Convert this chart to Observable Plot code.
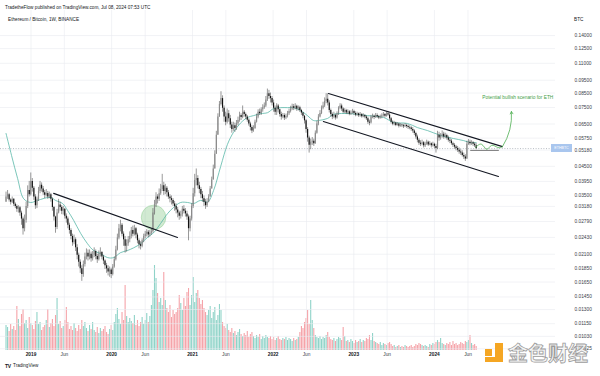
<!DOCTYPE html>
<html><head><meta charset="utf-8">
<script src="https://cdn.jsdelivr.net/npm/d3@7"></script>
<script src="https://cdn.jsdelivr.net/npm/@observablehq/plot@0.6"></script>
<style>
html,body{margin:0;padding:0;background:#fff;}
#wrap{position:relative;width:600px;height:376px;overflow:hidden;font-family:"Liberation Sans",Arial,sans-serif;background:#fff;}
#wrap svg{position:absolute;left:0;top:0;}
.abs{position:absolute;white-space:nowrap;line-height:1;}
</style></head><body>
<div id="wrap"></div>
<script>
// ---- data (weekly ETH/BTC candles, prices in 0.0001 BTC) ----
const firstWeek = "2018-09-10";
const firstOpen = 330;
const closes = [
345,352,336,330,338,324,318,310,314,300,
285,262,282,318,365,352,395,372,345,320,
338,362,382,370,358,350,356,345,352,338,
315,290,265,300,322,315,305,310,292,285,
270,258,245,232,238,222,208,196,185,176,
192,205,212,205,210,202,208,215,206,200,
210,213,205,198,190,185,180,183,176,188,
200,218,242,262,270,250,238,225,230,238,
245,258,250,262,248,236,228,225,236,245,
250,254,248,252,255,300,322,345,338,355,
368,380,362,372,358,345,340,335,325,318,
308,300,292,296,310,305,298,290,262,285,
318,355,398,405,380,368,352,340,330,320,
330,345,370,400,440,500,590,690,770,810,
745,690,660,710,680,645,620,640,625,652,
670,700,688,720,705,690,672,650,630,612,
625,660,690,720,712,735,748,760,800,845,
825,810,780,745,720,760,735,705,690,700,
685,695,710,725,740,755,745,758,740,748,
730,715,695,668,620,575,540,555,560,548,
600,650,690,712,745,760,790,805,780,730,
705,690,700,685,710,745,760,740,720,730,
715,722,708,715,725,712,702,710,698,705,
692,700,690,680,660,655,690,695,688,700,
692,685,690,698,705,695,710,702,680,660,
648,655,642,650,638,645,640,635,642,636,
630,628,620,612,598,580,565,550,545,552,
538,545,555,542,548,538,545,535,525,590,
575,585,595,580,588,575,565,560,548,540,
532,525,518,510,505,495,488,480,545,555,
548,552,545,538,525];
const highs = [
360,365,356,340,345,340,328,322,320,318,
305,290,295,330,380,395,425,405,378,352,
345,375,395,390,378,365,368,362,360,356,
342,318,292,310,338,330,320,318,312,298,
290,275,262,250,248,242,228,212,200,190,
198,212,220,218,218,214,215,222,218,210,
216,222,215,208,200,194,190,188,186,192,
205,225,250,272,282,274,255,245,238,245,
255,265,268,270,265,252,240,234,240,250,
256,260,258,258,262,312,335,358,352,370,
385,420,392,385,378,365,352,348,340,332,
325,315,305,305,318,320,312,305,295,292,
325,372,420,440,415,392,375,362,348,338,
340,352,378,410,455,515,610,710,790,860,
830,760,720,740,730,700,660,660,655,670,
690,720,710,760,730,715,700,680,660,640,
640,672,708,735,740,748,768,780,825,880,
870,850,825,800,760,775,770,740,720,712,
710,708,725,740,758,772,770,775,765,760,
758,738,720,700,675,630,585,570,578,570,
612,665,705,730,760,785,815,845,845,795,
740,715,720,708,722,755,775,772,748,742,
738,735,730,728,738,732,722,720,715,718,
712,710,705,698,690,672,700,708,702,712,
710,700,702,710,718,712,722,725,712,688,
668,665,660,658,655,652,650,648,652,648,
645,640,635,630,618,605,590,572,562,565,
558,555,565,560,558,552,555,550,545,610,
605,598,612,605,600,595,585,575,568,555,
548,540,535,528,520,515,505,498,560,568,
565,562,558,552,548];
const lows = [
330,338,330,322,326,318,312,302,300,292,
270,248,255,275,312,345,348,360,335,310,
312,332,355,360,350,340,345,338,340,330,
305,280,252,260,298,305,296,295,285,275,
262,250,238,225,228,215,200,188,178,166,
172,188,200,198,200,196,198,204,200,194,
198,205,200,192,184,178,174,172,170,174,
186,198,216,238,255,244,225,212,214,225,
232,240,244,246,240,230,220,218,222,232,
240,244,242,244,248,252,295,315,325,332,
350,362,350,352,345,338,328,322,318,305,
298,288,282,285,290,298,290,282,236,255,
280,312,345,380,370,355,340,330,318,310,
315,328,350,380,420,470,550,620,700,760,
720,660,640,650,660,625,600,610,605,615,
640,660,670,680,690,675,660,638,612,598,
605,620,655,680,700,700,720,738,750,790,
805,780,760,720,700,700,715,690,672,680,
670,675,685,700,715,730,730,735,725,728,
718,700,680,650,600,555,505,520,540,535,
545,595,640,685,705,735,750,775,760,715,
690,675,680,672,678,700,735,725,710,712,
705,705,698,700,708,700,692,695,688,690,
684,686,680,670,648,640,650,680,675,682,
682,675,678,680,690,685,690,695,670,650,
640,640,635,638,628,632,630,625,630,626,
620,618,610,600,588,570,552,540,535,538,
528,530,540,535,538,528,532,525,505,520,
560,565,575,570,572,565,555,548,540,530,
522,515,508,500,495,488,478,470,478,540,
538,540,535,530,520];
const volumes = [
25,23,19,26,21,24,20,44,31,24,
36,41,27,30,22,33,27,25,21,29,
38,26,28,20,23,25,30,41,23,27,
31,24,35,52,26,29,22,24,30,43,
28,21,24,20,27,22,19,25,21,30,
24,28,22,19,25,21,28,20,18,23,
17,22,19,21,24,18,16,21,25,20,
28,36,42,31,26,38,30,65,34,28,
32,29,27,35,25,30,24,28,33,26,
30,37,28,34,45,60,85,72,57,48,
52,45,78,50,42,38,45,33,40,36,
38,42,55,47,40,52,44,58,62,45,
55,73,48,57,60,52,46,50,42,38,
35,40,44,32,38,43,30,35,46,40,
28,24,22,26,20,18,22,17,19,15,
18,21,16,14,17,15,19,13,16,18,
14,12,15,13,16,11,14,12,15,13,
12,14,11,13,10,12,14,11,10,12,
11,13,10,12,11,9,12,10,11,13,
18,24,22,28,32,40,26,50,30,22,
15,13,12,14,11,13,12,15,18,13,
11,10,12,9,11,13,12,10,23,14,
9,10,8,11,9,7,10,8,9,11,
8,10,9,12,11,15,10,17,9,8,
7,6,8,5,7,6,5,7,8,6,
4,5,3,4,5,3,4,3,5,4,
3,4,5,3,4,6,5,7,6,5,
4,5,4,3,6,5,7,6,8,10,
8,12,7,6,5,7,6,8,5,9,
6,7,5,6,8,7,6,9,8,10,
15,7,5,6,4];
// moving average: [week index, price]
const maWeeks  = [0,3.6,7.5,11.4,15.9,20.4,28.8,32,36.6,39.8,43.7,48.2,52.7,56.6,61.2,65.7,69.6,74.1,78.6,82.5,87,91.5,95.4,99.9,104.5,108.3,112.9,117.4,121.3,125.8,130.3,134.2,138.8,143.2,147.1,151.6,156.2,160.1,164.6,169.1,173,177.5,182,185.9,190.4,194.9,198.8,202,207.9,211.7,222.7,233.7,244.1,250.5,259.6,266,272.5,280.9,289.3,295.8,300.4,304];
const maValues = [0.0599,0.0494,0.0405,0.0340,0.0329,0.0335,0.0344,0.0335,0.0326,0.0307,0.0282,0.0252,0.0230,0.0217,0.0211,0.0204,0.0204,0.0213,0.0217,0.0222,0.0230,0.0243,0.0253,0.0274,0.0299,0.0315,0.0329,0.0329,0.0326,0.0335,0.0330,0.0365,0.0450,0.0545,0.0605,0.0655,0.0688,0.0699,0.0711,0.0717,0.0743,0.0749,0.0749,0.0749,0.0731,0.0699,0.0670,0.0670,0.0682,0.0706,0.0711,0.0699,0.0688,0.0659,0.0653,0.0630,0.0614,0.0589,0.0573,0.0563,0.0553,0.0553];
// drawings: [week index, price]
const trend2019 = [[30.8,0.0356],[110.9,0.0243]];
const channelTop = [[208.5,0.0847],[321,0.0534]];
const channelBottom = [[205.2,0.0664],[318.4,0.0412]];
const rangeLine = [[300.4,0.0517],[318.4,0.0517]];
const bullPath = [[303.6,0.0530],[307.5,0.0545],[310.8,0.0522],[314,0.0540],[318,0.0530],[321,0.0534]];
const bullArrow = [[321,0.0534],[326.8,0.0724]];
const breakoutCircle = [95.4,0.0289];
const bullNote = [308,0.0818,"Potential bullish scenario for ETH"];
// axis ticks
const priceTicks = [0.14,0.125,0.11,0.095,0.085,0.075,0.065,0.0575,0.0518,0.045,0.0395,0.035,0.0318,0.0279,0.0243,0.021,0.0185,0.0165,0.0145,0.013,0.0115,0.0103,0.00925];
const yearTicks = ["2019-01-01","2020-01-01","2021-01-01","2022-01-01","2023-01-01","2024-01-01"];
const yearLabels = ["2019","2020","2021","2022","2023","2024"];
const monthTicks = ["2019-06-01","2020-06-01","2021-06-01","2022-06-01","2023-06-01","2024-06-01"];
const monthLabels = ["Jun","Jun","Jun","Jun","Jun","Jun"];

// ---- build ----
const DAY = 864e5;
const t0 = new Date(firstWeek + "T00:00:00Z").getTime();
const weekDate = i => new Date(t0 + i * 7 * DAY);
const U = 1e-4;
const candles = closes.map((c, i) => {
  const o = i === 0 ? firstOpen : closes[i - 1];
  return {date: weekDate(i), open: o*U, close: c*U,
    high: Math.max(highs[i], o, c)*U, low: Math.min(lows[i], o, c)*U,
    vol: volumes[i], up: c >= o};
});
const pts = arr => arr.map(([i, p]) => ({date: weekDate(i), p}));
const ma = maWeeks.map((w, k) => ({date: weekDate(w), p: maValues[k]}));
const lastPrice = closes[closes.length - 1] * U;
const yDates = yearTicks.map(s => new Date(s + "T00:00:00Z"));
const mDates = monthTicks.map(s => new Date(s + "T00:00:00Z"));
const yLab = new Map(yDates.map((d, k) => [+d, yearLabels[k]]));
const mLab = new Map(mDates.map((d, k) => [+d, monthLabels[k]]));

const xDomain = [new Date("2018-08-16T00:00:00Z"), new Date("2025-07-02T00:00:00Z")];
const common = {width: 600, height: 376, marginTop: 10, marginBottom: 26, marginLeft: 0, marginRight: 45,
  style: {background: "transparent", overflow: "visible", fontFamily: "Liberation Sans, Arial, sans-serif"}};
const FS = 4.8;

const volPlot = Plot.plot({...common,
  x: {type: "utc", domain: xDomain, axis: null},
  y: {domain: [0, 340], axis: null},
  marks: [
    Plot.ruleX(candles.filter(d => d.up), {x: "date", y1: 0, y2: "vol", stroke: "#8fd3c8", strokeWidth: 1.1}),
    Plot.ruleX(candles.filter(d => !d.up), {x: "date", y1: 0, y2: "vol", stroke: "#f5a3a9", strokeWidth: 1.1})
  ]
});

const main = Plot.plot({...common,
  x: {type: "utc", domain: xDomain, axis: null},
  y: {type: "log", domain: [0.009112, 0.17395], axis: null},
  marks: [
    Plot.gridY(priceTicks, {stroke: "#e9ebf0", strokeOpacity: 1, strokeWidth: 0.6}),
    Plot.gridX(yDates.concat(mDates), {stroke: "#e9ebf0", strokeOpacity: 1, strokeWidth: 0.6}),
    Plot.axisY(priceTicks, {anchor: "right", tickSize: 0, tickPadding: 19, tickFormat: d => d.toFixed(5), fontSize: FS, fill: "#3a3e4a", label: null}),
    Plot.axisX(yDates, {anchor: "bottom", tickSize: 0, tickPadding: 2, tickFormat: d => yLab.get(+d), fontSize: FS, fontWeight: "bold", fill: "#131722", label: null}),
    Plot.axisX(mDates, {anchor: "bottom", tickSize: 0, tickPadding: 2, tickFormat: d => mLab.get(+d), fontSize: FS, fill: "#3a3e4a", label: null}),
    Plot.ruleY([lastPrice], {stroke: "#9aa0ab", strokeWidth: 0.7, strokeDasharray: "1,1.6"}),
    Plot.dot([breakoutCircle], {x: d => weekDate(d[0]), y: d => d[1], r: 12.3, fill: "#66bb6a", fillOpacity: 0.3, stroke: "#66bb6a", strokeOpacity: 0.45, strokeWidth: 0.7}),
    Plot.line(ma, {x: "date", y: "p", stroke: "#4fb3a3", strokeWidth: 0.75, curve: "catmull-rom"}),
    Plot.ruleX(candles, {x: "date", y1: "low", y2: "high", stroke: "#333", strokeWidth: 0.5}),
    Plot.ruleX(candles.filter(d => d.up), {x: "date", y1: "open", y2: "close", stroke: "#8a8a8a", strokeWidth: 1.15}),
    Plot.ruleX(candles.filter(d => !d.up), {x: "date", y1: "open", y2: "close", stroke: "#111", strokeWidth: 1.15}),
    Plot.line(pts(trend2019), {x: "date", y: "p", stroke: "#131722", strokeWidth: 1.1}),
    Plot.line(pts(channelTop), {x: "date", y: "p", stroke: "#131722", strokeWidth: 1.1}),
    Plot.line(pts(channelBottom), {x: "date", y: "p", stroke: "#131722", strokeWidth: 1.1}),
    Plot.line(pts(rangeLine), {x: "date", y: "p", stroke: "#555", strokeWidth: 0.8}),
    Plot.line(pts(bullPath), {x: "date", y: "p", stroke: "#4caf50", strokeWidth: 0.8, curve: "natural"}),
    Plot.arrow([bullArrow], {x1: d => weekDate(d[0][0]), y1: d => d[0][1], x2: d => weekDate(d[1][0]), y2: d => d[1][1], stroke: "#4caf50", strokeWidth: 0.8, bend: -18, headLength: 5}),
    Plot.text([bullNote], {x: d => weekDate(d[0]), y: d => d[1], text: d => d[2], textAnchor: "start", fontSize: FS, fill: "#43a047"})
  ]
});

const wrap = document.getElementById("wrap");
wrap.appendChild(volPlot);
wrap.appendChild(main);

function addText(txt, left, top, css) {
  const el = document.createElement("div");
  el.className = "abs";
  el.textContent = txt;
  el.style.left = left + "px";
  el.style.top = top + "px";
  Object.assign(el.style, css || {});
  wrap.appendChild(el);
  return el;
}
addText("TradetheFlow published on TradingView.com, Jul 08, 2024 07:53 UTC", 5, 5.5, {fontSize: "4.7px", color: "#131722"});
addText("Ethereum / Bitcoin, 1W, BINANCE", 8, 17.5, {fontSize: "4.7px", color: "#131722"});
addText("BTC", 574, 17.5, {fontSize: "4.7px", color: "#131722"});
// last price tag
const yLast = main.scale("y").apply(lastPrice);
addText("ETHBTC", 551, yLast - 4, {fontSize: "3.6px", color: "#fff", background: "#a9c6ee", width: "21px", height: "8px", lineHeight: "8px", textAlign: "center"});
// footer logo
addText("TV", 5, 363.5, {fontSize: "5px", fontWeight: "900", color: "#131722", letterSpacing: "-0.3px"});
addText("TradingView", 13, 364, {fontSize: "4.6px", color: "#131722"});
// watermark
const o1 = document.createElement("div");
Object.assign(o1.style, {position: "absolute", left: "485px", top: "349px", width: "7px", height: "7px", background: "#f5a623"});
wrap.appendChild(o1);
const o2 = document.createElement("div");
Object.assign(o2.style, {position: "absolute", left: "495px", top: "343px", width: "8px", height: "19px", background: "#f5a623"});
wrap.appendChild(o2);
const o3 = document.createElement("div");
Object.assign(o3.style, {position: "absolute", left: "485px", top: "357px", width: "18px", height: "5px", background: "#f5a623"});
wrap.appendChild(o3);
addText("金色财经", 508, 343, {fontSize: "20px", fontWeight: "700", fontFamily: "'Noto Sans CJK SC', sans-serif", color: "rgba(245,245,245,0.9)", webkitTextStroke: "0.8px #9c9c9c"});
</script>
</body></html>
